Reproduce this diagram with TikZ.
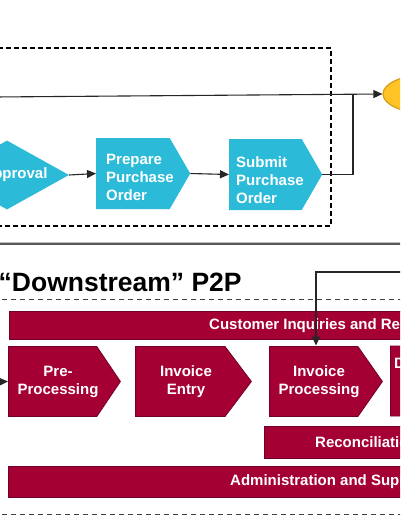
\documentclass[tikz,border=0pt]{standalone}
\usepackage{fontspec}
\setmainfont{Liberation Sans}
\usetikzlibrary{shapes.symbols,shapes.geometric,arrows.meta}
\definecolor{cyanf}{HTML}{2BBBD8}
\definecolor{maroon}{HTML}{A50034}
\definecolor{maroond}{HTML}{72002A}
\definecolor{goldf}{HTML}{FFC325}
\definecolor{goldd}{HTML}{D49E1C}
\tikzset{
  cyansig/.style={signal, signal to=east, signal pointer angle=120, fill=cyanf, draw=none,
    minimum width=94pt, minimum height=71pt, inner sep=0pt, anchor=west},
  marsig/.style={signal, signal to=east, signal pointer angle=112, fill=maroon, draw=maroond, line width=0.8pt,
    minimum height=70pt, inner sep=0pt, anchor=west},
  bar/.style={rectangle, fill=maroon, draw=maroond, line width=0.8pt, inner sep=0pt, anchor=north west},
  wtxt/.style={text=white, font=\bfseries\fontsize{15}{18}\selectfont, inner sep=0pt},
  conn/.style={line width=1.1pt, draw=black!85},
  arr/.style={conn, -{Triangle[length=9pt,width=8pt]}},
  boxdash/.style={line width=1.1pt, dash pattern=on 5pt off 3pt},
  sepdash/.style={line width=1pt, draw=black!75, dash pattern=on 5pt off 4pt},
}
\begin{document}
\begin{tikzpicture}[x=1pt,y=-1pt]
\useasboundingbox (0,0) rectangle (400,516);
\clip (0,0) rectangle (400,516);

% upstream dashed box
\draw[boxdash] (-10,48) -- (331,48) -- (331,226) -- (-10,226);

% goal ellipse
\node[ellipse, fill=goldf, draw=goldd, line width=1.2pt, minimum width=84pt, minimum height=38pt, inner sep=0pt] (goal) at (425,94) {};

% cyan shapes
\node[diamond, fill=cyanf, draw=none, minimum width=124pt, minimum height=69pt, inner sep=0pt] (appr) at (7,175) {};
\node[wtxt] (apprt) at (15,175) {Approval};
\node[cyansig] (prep) at (96,173.5) {};
\node[wtxt, align=left, anchor=west] (prept) at (106,177) {Prepare\\Purchase\\Order};
\node[cyansig, minimum width=93pt] (sub) at (229,174.5) {};
\node[wtxt, align=left, anchor=west] (subt) at (236,180) {Submit\\Purchase\\Order};

\coordinate (lin) at (-5,97);
\coordinate (j) at (353,95);
\draw[arr] (lin) -- (goal.west);
\draw[conn] (sub.east) -| (j);
\draw[arr] (appr.east) -- (prep.west);
\draw[arr] (prep.east) -- (sub.west);

% separator
\draw[line width=1.8pt, draw=black!65] (-5,243.6) -- (405,243.6);
\draw[line width=0.7pt, draw=black!25] (-5,242.3) -- (405,242.3);

% heading
\node[anchor=west, inner sep=0pt, font=\bfseries\fontsize{26.5}{30}\selectfont] (head) at (-1.5,282) {“Downstream” P2P};
\draw[sepdash] (2,299) -- (405,299);

% bars
\node[bar, minimum width=500pt, minimum height=28pt] (cust) at (9,311) {};
\node[wtxt, anchor=west] (custt) at (209,326) {Customer Inquiries and Resolution};

% process row
\node[marsig, minimum width=112pt] (pre) at (8,381.5) {};
\node[wtxt, align=center] (pret) at (58,382) {Pre-\\Processing};
\node[marsig, minimum width=116pt, signal pointer angle=106] (ent) at (135,381.5) {};
\node[wtxt, align=center] (entt) at (186,382) {Invoice\\Entry};
\node[marsig, minimum width=113pt, signal pointer angle=110] (proc) at (269,381.5) {};
\node[wtxt, align=center] (proct) at (319,382) {Invoice\\Processing};
\node[marsig, minimum width=110pt] (disp) at (390,381) {};
\node[wtxt, anchor=west] (dispt) at (394,363) {D};

\node[bar, minimum width=300pt, minimum height=32pt] (rec) at (264,426) {};
\node[wtxt, anchor=west] (rect) at (315,442) {Reconciliation};
\node[bar, minimum width=500pt, minimum height=31pt] (adm) at (8,466) {};
\node[wtxt, anchor=west] (admt) at (230,482) {Administration and Support};

% connectors lower
\coordinate (lin2) at (-10,382);
\draw[arr] (lin2) -- (pre.west);
\coordinate (k) at (410,272);
\coordinate (procin) at (316,345.5);
\draw[arr] (k) -| (procin);

\draw[sepdash] (2,514) -- (405,514);
\end{tikzpicture}
\end{document}
